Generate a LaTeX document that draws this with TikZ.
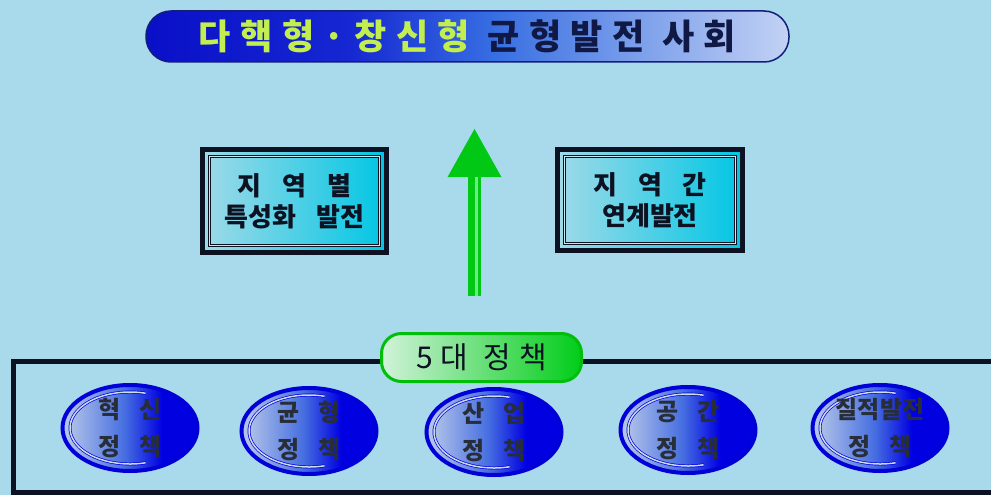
\documentclass[tikz,border=0pt]{standalone}
\usepackage{fontspec}
\newfontfamily\kr{Noto Sans CJK KR}
\newfontfamily\krwide[LetterSpace=27]{Noto Sans CJK KR}
\newfontfamily\krpol[WordSpace=3.5]{Noto Sans CJK KR}
\usetikzlibrary{calc}
\usetikzlibrary{arrows.meta}
\usetikzlibrary{shapes.geometric}

\definecolor{bgblue}{RGB}{168,218,236}
\definecolor{bandark}{RGB}{10,15,200}
\definecolor{bandeep}{RGB}{22,40,210}
\definecolor{banmid}{RGB}{55,110,226}
\definecolor{banlight}{RGB}{195,210,244}
\definecolor{banline}{RGB}{20,30,120}
\definecolor{limetext}{RGB}{195,238,80}
\definecolor{navytext}{RGB}{16,24,70}
\definecolor{framedark}{RGB}{12,18,34}
\definecolor{boxleft}{RGB}{160,218,232}
\definecolor{boxright}{RGB}{0,198,228}
\definecolor{arrowgreen}{RGB}{0,200,20}
\definecolor{stripegreen}{RGB}{110,235,130}
\definecolor{labelleft}{RGB}{210,242,218}
\definecolor{labelright}{RGB}{0,205,25}
\definecolor{labelline}{RGB}{0,190,10}
\definecolor{polylight}{RGB}{178,196,232}
\definecolor{polymid}{RGB}{70,110,225}
\definecolor{polydeep}{RGB}{0,0,225}
\definecolor{polyline}{RGB}{0,0,215}
\definecolor{polyring}{RGB}{205,218,242}
\definecolor{polytext}{RGB}{40,46,56}

\pgfdeclarehorizontalshading{bannershade}{100bp}{color(0bp)=(bandark); color(25bp)=(bandark); color(41bp)=(bandeep); color(52bp)=(banmid); color(75bp)=(banlight); color(100bp)=(banlight)}
\pgfdeclarehorizontalshading{policyshade}{100bp}{color(0bp)=(polylight); color(27bp)=(polylight); color(48bp)=(polymid); color(62bp)=(polydeep); color(100bp)=(polydeep)}

\tikzset{
  banner/.style={draw=banline, line width=1.5pt, shading=bannershade, rounded corners=25pt,
    minimum width=643pt, minimum height=51pt, inner sep=0pt,
    font=\krwide\bfseries\fontsize{35pt}{38pt}\selectfont},
  regionbox/.style={draw=framedark, line width=5pt, left color=boxleft, right color=boxright,
    inner sep=0pt, align=center, text=framedark,
    font=\kr\bfseries\fontsize{26pt}{31pt}\selectfont,
    path picture={\draw[framedark, line width=0.8pt, double=boxleft!60!white, double distance=1.8pt]
      ($(path picture bounding box.south west)+(7,-7)$) rectangle ($(path picture bounding box.north east)+(-7,7)$);}},
  growth/.style={draw=arrowgreen, line width=13pt, -{Triangle[width=50pt,length=49pt]}},
  policylabel/.style={draw=labelline, line width=3pt, left color=labelleft, right color=labelright,
    rounded corners=20pt, minimum width=200pt, minimum height=48pt, inner sep=0pt, text=framedark,
    font=\krwide\fontsize{30pt}{32pt}\selectfont},
  policy/.style={ellipse, draw=polyline, line width=4pt, shading=policyshade,
    minimum width=135pt, minimum height=86pt, inner sep=0pt, align=center, text=polytext,
    font=\krpol\bfseries\fontsize{24pt}{37pt}\selectfont,
    path picture={\draw[polyline, line width=0.7pt, double=polyring, double distance=1.5pt]
      ($(path picture bounding box.center)+({60*cos(75)},{36*sin(75)})$)
      arc[start angle=75, end angle=285, x radius=60, y radius=36];}},
  frame/.style={draw=framedark, line width=5pt}
}

\begin{document}
\begin{tikzpicture}[x=1pt,y=-1pt]
\useasboundingbox (0,0) rectangle (991,495);
\fill[bgblue] (0,0) rectangle (991,495);
\draw[frame] (995,361) -| (13,492) -- (995,492);

\node[regionbox, minimum width=184pt, minimum height=103pt] (special) at (294.5,201) {지 역 별\\특성화 발전};
\node[regionbox, minimum width=185pt, minimum height=101pt] (linked) at (650,200) {지 역 간\\연계발전};

\coordinate (arrow tail) at (474.5,296);
\coordinate (arrow head) at (474.5,128);
\draw[growth] (arrow tail) -- (arrow head);
\draw[stripegreen, line width=3pt] ($(arrow tail)+(1.5,0)$) -- ($(arrow head)+(1.5,49)$);

\node[policylabel] (five) at (481.5,357.5) {5대 정책};

\foreach \px/\py/\name/\txt in {130/428/innovation/{혁 신\\정 책}, 309/431/balance/{균 형\\정 책},
  494/432/industry/{산 업\\정 책}, 688/430/space/{공 간\\정 책}, 880/428/quality/{질적발전\\정 책}}
  \node[policy] (\name) at (\px,\py) {\txt};

\node[banner] (goal) at (467.5,36.5) {{\color{limetext}다핵형·창신형} {\color{navytext}균형발전 사회}};
\end{tikzpicture}
\end{document}
